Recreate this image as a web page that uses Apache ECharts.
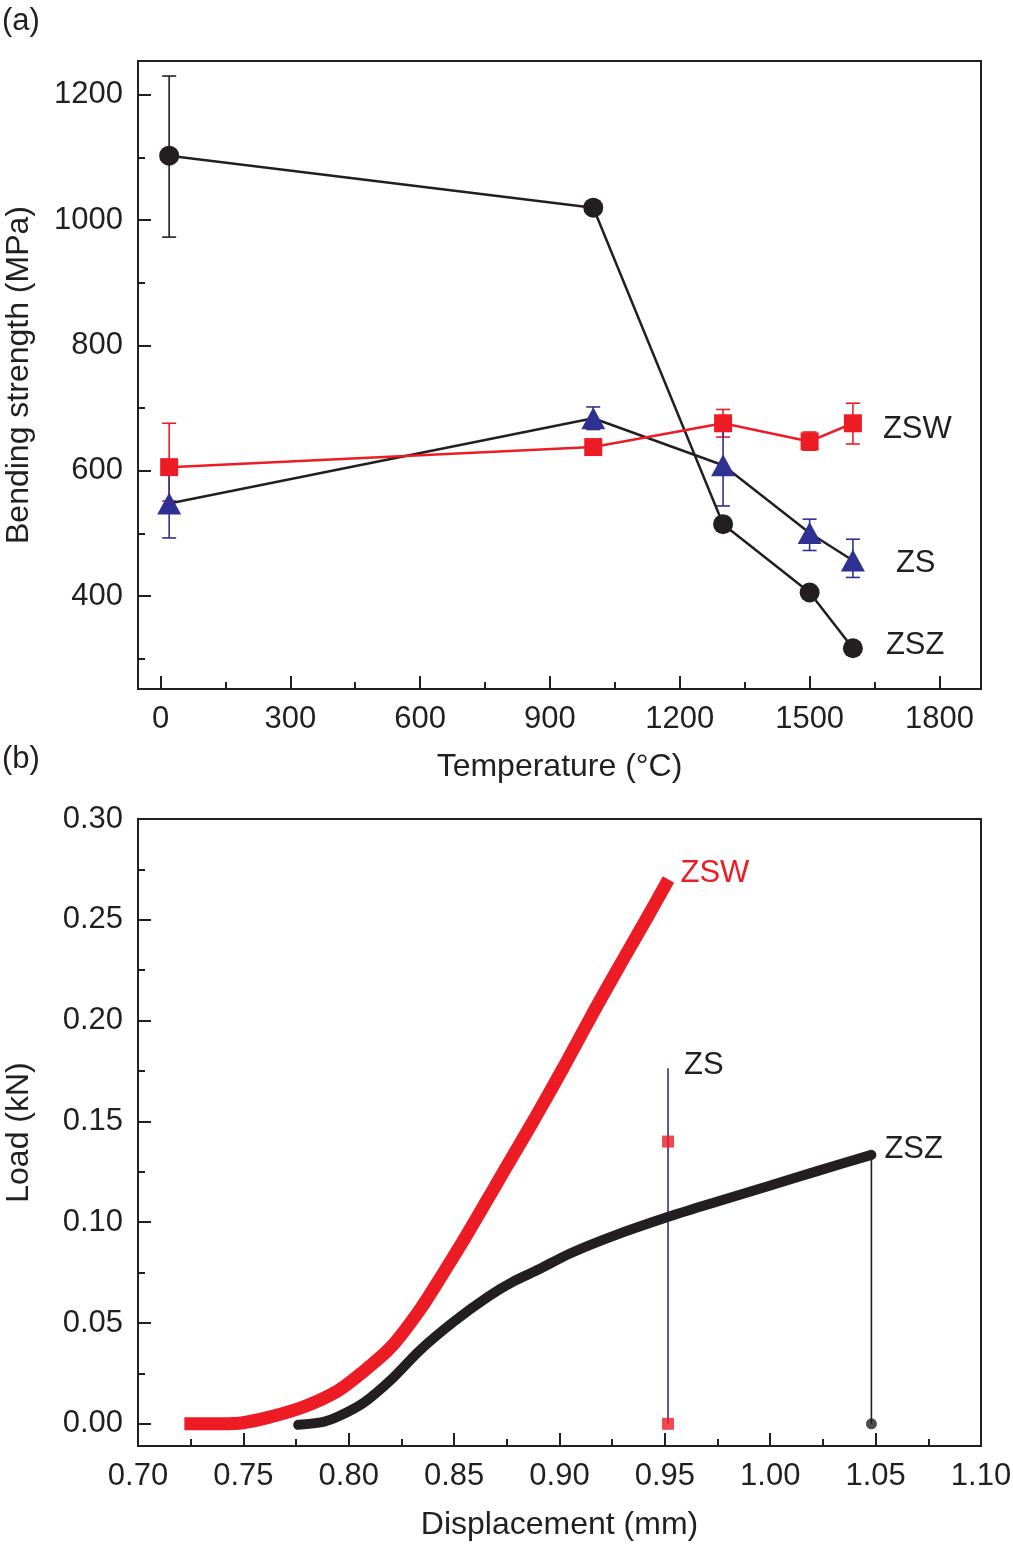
<!DOCTYPE html>
<html>
<head>
<meta charset="utf-8">
<script src="https://cdn.jsdelivr.net/npm/echarts@6/dist/echarts.min.js"></script>
<style>
html,body{margin:0;padding:0;background:#fff;}
#chart{width:1013px;height:1546px;}
</style>
</head>
<body>
<div id="chart"></div>
<script>
// ---------- Panel (a): bending strength vs temperature ----------
const tempX = [20, 1000, 1300, 1500, 1600];
const zswStrength = [606, 638, 676, 647, 676];
const zsStrength = [548, 684, 609, 501, 457];
const zszStrength = [1103, 1020, 515, 406, 317];
const zswErrLow = [552, null, 654, 633, 643];
const zswErrHigh = [676, null, 698, 662, 708];
const zsErrLow = [493, 666, 544, 473, 430];
const zsErrHigh = [603, 702, 674, 523, 491];
const zszErrLow = [973, null, null, 398, null];
const zszErrHigh = [1230, null, null, 414, null];
const tempTicks = [0, 300, 600, 900, 1200, 1500, 1800];
const tempMinor = [150, 450, 750, 1050, 1350, 1650];
const strengthTicks = [400, 600, 800, 1000, 1200];
const strengthMinor = [300, 500, 700, 900, 1100];

// ---------- Panel (b): load vs displacement ----------
const zswDisp = [0.722, 0.735, 0.748, 0.763, 0.779, 0.795, 0.807, 0.820, 0.834, 0.845, 0.855, 0.864, 0.874, 0.888, 0.902, 0.916, 0.930, 0.941, 0.9517];
const zswLoad = [0, 0, 0.0003, 0.0035, 0.0086, 0.0165, 0.026, 0.038, 0.057, 0.075, 0.092, 0.108, 0.126, 0.151, 0.177, 0.204, 0.230, 0.250, 0.270];
const zszDisp = [0.776, 0.788, 0.795, 0.807, 0.820, 0.834, 0.850, 0.866, 0.878, 0.890, 0.905, 0.925, 0.952, 0.975, 0.9985, 1.023, 1.048];
const zszLoad = [-0.0005, 0.001, 0.0036, 0.0104, 0.0218, 0.0367, 0.0508, 0.0630, 0.0705, 0.0765, 0.0845, 0.0930, 0.1028, 0.1103, 0.1177, 0.1256, 0.1334];
const zsDisp = [0.9515, 0.9515];
const zsLineLoad = [0, 0.1764];
const zsPointLoad = [0.14, 0];
const zszFailDisp = [1.048, 1.048];
const zszFailLoad = [0.1334, 0];
const zszFailPoint = [0];
const dispTicks = [0.70, 0.75, 0.80, 0.85, 0.90, 0.95, 1.00, 1.05, 1.10];
const dispMinor = [0.725, 0.775, 0.825, 0.875, 0.925, 0.975, 1.025, 1.075];
const loadTicks = [0, 0.05, 0.10, 0.15, 0.20, 0.25, 0.30];
const loadMinor = [0.025, 0.075, 0.125, 0.175, 0.225, 0.275];

const RED = '#ed1c24', BLUE = '#2e3192', BLACK = '#231f20';
const FONT = "'Liberation Sans', Arial, Helvetica, sans-serif";

const zip = (xs, ys) => xs.map((x, i) => [x, ys[i]]);
const errData = (xs, lo, hi) => xs.map((x, i) => [x, lo[i], hi[i]]).filter(d => d[1] != null);

function errRender(color) {
  return function (params, api) {
    const x = api.value(0);
    const lo = api.coord([x, api.value(1)]);
    const hi = api.coord([x, api.value(2)]);
    const hw = 7;
    const st = { stroke: color, lineWidth: 1.6 };
    return {
      type: 'group',
      children: [
        { type: 'line', shape: { x1: lo[0], y1: lo[1], x2: hi[0], y2: hi[1] }, style: st },
        { type: 'line', shape: { x1: hi[0] - hw, y1: hi[1], x2: hi[0] + hw, y2: hi[1] }, style: st },
        { type: 'line', shape: { x1: lo[0] - hw, y1: lo[1], x2: lo[0] + hw, y2: lo[1] }, style: st }
      ]
    };
  };
}

function majorAxis(gridIndex, pos, min, max, ticks, fmt, name, nameGap) {
  return {
    type: 'value', gridIndex, position: pos, min, max,
    name, nameLocation: 'middle', nameGap,
    nameTextStyle: { fontFamily: FONT, fontSize: 32, color: BLACK },
    axisLine: { show: true, onZero: false, lineStyle: { color: BLACK, width: 2 } },
    axisTick: { show: true, inside: true, length: 13, customValues: ticks, lineStyle: { color: BLACK, width: 2 } },
    axisLabel: { show: true, customValues: ticks, formatter: fmt, fontFamily: FONT, fontSize: 31, color: BLACK, margin: 15 },
    splitLine: { show: false }
  };
}
function minorAxis(gridIndex, pos, min, max, ticks) {
  return {
    type: 'value', gridIndex, position: pos, min, max,
    axisLine: { show: false, onZero: false },
    axisTick: { show: true, inside: true, length: 7, customValues: ticks, lineStyle: { color: BLACK, width: 2 } },
    axisLabel: { show: false },
    splitLine: { show: false }
  };
}

const chart = echarts.init(document.getElementById('chart'), null, { renderer: 'canvas' });
const option = {
  animation: false,
  backgroundColor: '#fff',
  textStyle: { fontFamily: FONT },
  graphic: [
    { type: 'text', left: 2, top: 6, style: { text: '(a)', font: "31px 'Liberation Sans', Arial", fill: BLACK } },
    { type: 'text', left: 2, top: 744, style: { text: '(b)', font: "31px 'Liberation Sans', Arial", fill: BLACK } }
  ],
  grid: [
    { left: 138, top: 61, width: 843, height: 628, show: true, borderColor: BLACK, borderWidth: 2, containLabel: false, outerBoundsMode: 'none' },
    { left: 138, top: 819, width: 843, height: 627, show: true, borderColor: BLACK, borderWidth: 2, containLabel: false, outerBoundsMode: 'none' }
  ],
  xAxis: [
    majorAxis(0, 'bottom', -52, 1896, tempTicks, v => String(v), 'Temperature (°C)', 62),
    minorAxis(0, 'bottom', -52, 1896, tempMinor),
    majorAxis(1, 'bottom', 0.70, 1.10, dispTicks, v => v.toFixed(2), 'Displacement (mm)', 63),
    minorAxis(1, 'bottom', 0.70, 1.10, dispMinor)
  ],
  yAxis: [
    majorAxis(0, 'left', 252, 1254, strengthTicks, v => String(v), 'Bending strength (MPa)', 103),
    minorAxis(0, 'left', 252, 1254, strengthMinor),
    majorAxis(1, 'left', -0.011, 0.30, loadTicks, v => v.toFixed(2), 'Load (kN)', 103),
    minorAxis(1, 'left', -0.011, 0.30, loadMinor)
  ],
  series: [
    // ---- panel (a) error bars ----
    { type: 'custom', xAxisIndex: 0, yAxisIndex: 0, z: 2, renderItem: errRender(RED), encode: { x: 0, y: [1, 2] }, data: errData(tempX, zswErrLow, zswErrHigh) },
    { type: 'custom', xAxisIndex: 0, yAxisIndex: 0, z: 2, renderItem: errRender(BLUE), encode: { x: 0, y: [1, 2] }, data: errData(tempX, zsErrLow, zsErrHigh) },
    { type: 'custom', xAxisIndex: 0, yAxisIndex: 0, z: 2, renderItem: errRender(BLACK), encode: { x: 0, y: [1, 2] }, data: errData(tempX, zszErrLow, zszErrHigh) },
    // ---- panel (a) lines ----
    {
      name: 'ZS', type: 'line', xAxisIndex: 0, yAxisIndex: 0, z: 3,
      data: zip(tempX, zsStrength),
      symbol: 'triangle', symbolSize: [24, 22],
      itemStyle: { color: BLUE }, lineStyle: { color: BLACK, width: 2.5 },
      endLabel: { show: true, formatter: 'ZS', color: BLACK, fontFamily: FONT, fontSize: 31, distance: 43, offset: [0, 3] }
    },
    {
      name: 'ZSW', type: 'line', xAxisIndex: 0, yAxisIndex: 0, z: 4,
      data: zip(tempX, zswStrength),
      symbol: 'rect', symbolSize: 18,
      itemStyle: { color: RED }, lineStyle: { color: RED, width: 2.5 },
      endLabel: { show: true, formatter: 'ZSW', color: BLACK, fontFamily: FONT, fontSize: 31, distance: 30, offset: [0, 6] }
    },
    {
      name: 'ZSZ', type: 'line', xAxisIndex: 0, yAxisIndex: 0, z: 3,
      data: zip(tempX, zszStrength),
      symbol: 'circle', symbolSize: 20,
      itemStyle: { color: BLACK }, lineStyle: { color: BLACK, width: 2.5 },
      endLabel: { show: true, formatter: 'ZSZ', color: BLACK, fontFamily: FONT, fontSize: 31, distance: 33, offset: [0, -3] }
    },
    // ---- panel (b) ----
    {
      name: 'ZSW-b', type: 'line', xAxisIndex: 2, yAxisIndex: 2, z: 3,
      data: zip(zswDisp, zswLoad), smooth: 0.3, showSymbol: false, symbol: 'none',
      lineStyle: { color: RED, width: 13, cap: 'butt' },
      endLabel: { show: true, formatter: 'ZSW', color: RED, fontFamily: FONT, fontSize: 31, distance: 12, offset: [0, -6] }
    },
    {
      name: 'ZSZ-b', type: 'line', xAxisIndex: 2, yAxisIndex: 2, z: 3,
      data: zip(zszDisp, zszLoad), smooth: 0.3, showSymbol: false, symbol: 'none',
      lineStyle: { color: BLACK, width: 10, cap: 'round' },
      endLabel: { show: true, formatter: 'ZSZ', color: BLACK, fontFamily: FONT, fontSize: 31, distance: 13, offset: [0, -5] }
    },
    {
      name: 'ZSZ-fail', type: 'line', xAxisIndex: 2, yAxisIndex: 2, z: 2,
      data: zip(zszFailDisp, zszFailLoad), showSymbol: false, symbol: 'none',
      lineStyle: { color: BLACK, width: 1.6 }
    },
    {
      name: 'ZSZ-failpt', type: 'scatter', xAxisIndex: 2, yAxisIndex: 2, z: 4,
      data: zszFailPoint.map(v => [zszFailDisp[1], v]), symbol: 'circle', symbolSize: 11,
      itemStyle: { color: BLACK }
    },
    {
      name: 'ZS-b', type: 'line', xAxisIndex: 2, yAxisIndex: 2, z: 2,
      data: zip(zsDisp, zsLineLoad), showSymbol: false, symbol: 'none',
      lineStyle: { color: BLUE, width: 1.6 },
      endLabel: { show: true, formatter: 'ZS', color: BLACK, fontFamily: FONT, fontSize: 31, distance: 16, offset: [0, -3] }
    },
    {
      name: 'ZS-pts', type: 'scatter', xAxisIndex: 2, yAxisIndex: 2, z: 4,
      data: zsPointLoad.map(v => [zsDisp[0], v]), symbol: 'rect', symbolSize: 12,
      itemStyle: { color: RED }
    }
  ]
};
chart.setOption(option);
</script>
</body>
</html>
